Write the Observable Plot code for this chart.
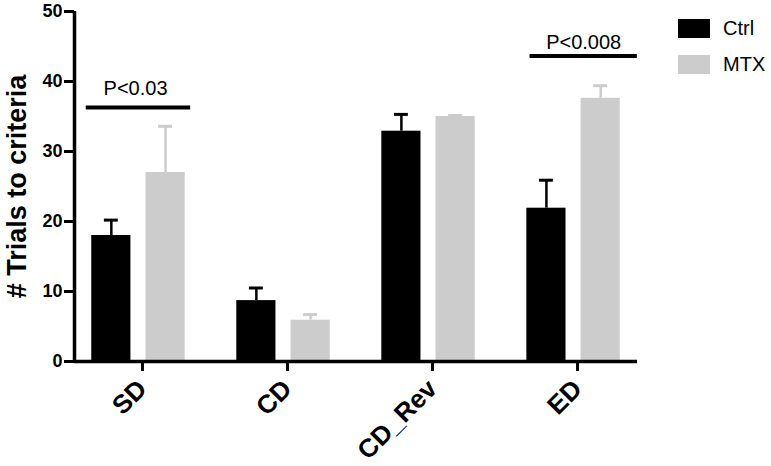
<!DOCTYPE html>
<html>
<head>
<meta charset="utf-8">
<script src="https://cdn.jsdelivr.net/npm/d3@7"></script>
<script src="https://cdn.jsdelivr.net/npm/@observablehq/plot@0.6"></script>
<style>
  body { margin: 0; background: #fff; font-family: "Liberation Sans", Arial, sans-serif; }
  #wrap { position: relative; width: 771px; height: 466px; }
  #legend { position: absolute; left: 678px; top: 19px; width: 93px; white-space: nowrap; }
  .lg-swatches { margin: 0 !important; font-size: 20px; line-height: 19px; font-family: "Liberation Sans", Arial, sans-serif; color: #000; }
  .lg-swatch { margin: 0 0 17px 0 !important; padding: 0 !important; display: flex; align-items: center; height: 19px; overflow: visible !important; }
  .lg-swatch svg { margin-right: 13px !important; flex-shrink: 0; }
  .lg-swatch * { overflow: visible !important; text-overflow: clip !important; }
</style>
</head>
<body>
<div id="wrap"><div id="chart"></div><div id="legend"></div></div>
<script>
// ---- data ----
const categories = ["SD", "CD", "CD_Rev", "ED"];
const series = ["Ctrl", "MTX"];
const seriesColors = ["#000000", "#cccccc"];
const ctrlMean = [18.0, 8.7, 32.9, 21.9];
const ctrlErr  = [2.2, 1.8, 2.4, 4.0];
const mtxMean  = [27.0, 5.9, 35.0, 37.6];
const mtxErr   = [6.6, 0.8, 0.15, 1.8];
const yTicks = [0, 10, 20, 30, 40, 50];
const yTitle = "# Trials to criteria";
const sigCategory = ["SD", "ED"];
const sigLabel = ["P<0.03", "P<0.008"];
const sigLineValue = [36.3, 43.65];
const sigTextValue = [38.1, 44.6];
const sigSpanFrom = [-0.36, -0.30];
const sigSpanTo = [0.36, 0.44];
const sigTextShift = [-0.02, 0.07];

// ---- layout (category units) ----
const xDomain = [-0.441, 3.441];
const groupOffset = { Ctrl: -0.187, MTX: 0.187 };
const barHalf = 0.135;
const capHalf = 0.048;

const means = { Ctrl: ctrlMean, MTX: mtxMean };
const errs = { Ctrl: ctrlErr, MTX: mtxErr };
const rows = [];
categories.forEach((cat, i) => {
  series.forEach(g => rows.push({ cat, i, group: g, mean: means[g][i], err: errs[g][i] }));
});
const sig = sigCategory.map((cat, k) => ({
  i: categories.indexOf(cat), label: sigLabel[k], lineY: sigLineValue[k], textY: sigTextValue[k],
  from: sigSpanFrom[k], to: sigSpanTo[k], shift: sigTextShift[k]
}));
const center = d => d.i + groupOffset[d.group];

const chart = Plot.plot({
  width: 771, height: 466,
  marginLeft: 74, marginRight: 134, marginTop: 11, marginBottom: 105,
  style: { fontFamily: "'Liberation Sans', Arial, sans-serif", color: "#000", background: "#fff" },
  x: { type: "linear", domain: xDomain, axis: null },
  y: { domain: [0, 50], axis: null },
  color: { domain: series, range: seriesColors },
  marks: [
    Plot.rectY(rows, { x1: d => center(d) - barHalf, x2: d => center(d) + barHalf, y1: 0, y2: "mean", fill: "group" }),
    Plot.ruleX(rows, { x: center, y1: "mean", y2: d => d.mean + d.err, stroke: "group", strokeWidth: 2.5 }),
    Plot.ruleY(rows, { y: d => d.mean + d.err, x1: d => center(d) - capHalf, x2: d => center(d) + capHalf, stroke: "group", strokeWidth: 3 }),
    Plot.ruleY([0], { strokeWidth: 3.5 }),
    Plot.ruleX([xDomain[0]], { y1: 0, y2: 50, strokeWidth: 3.5 }),
    Plot.axisY({ ticks: yTicks, tickSize: 10, tickPadding: 2, fontSize: 18, fontWeight: "bold", strokeWidth: 3, label: null }),
    Plot.axisX({ ticks: categories.map((_, i) => i), tickFormat: i => categories[i], tickSize: 10, tickPadding: 13,
                 tickRotate: -45, fontSize: 26, fontWeight: "bold", strokeWidth: 3, dx: 4, label: null }),
    Plot.text([yTitle], { text: d => d, frameAnchor: "left", textAnchor: "middle", rotate: -90, dx: -57, fontSize: 27, fontWeight: "bold" }),
    Plot.ruleY(sig, { y: "lineY", x1: d => d.i + d.from, x2: d => d.i + d.to, strokeWidth: 4 }),
    Plot.text(sig, { x: d => d.i + d.shift, y: "textY", text: "label", fontSize: 20, lineAnchor: "bottom" })
  ]
});
document.getElementById("chart").appendChild(chart);
const leg = chart.legend("color", { swatchWidth: 32, swatchHeight: 19, columns: 1, className: "lg" });
document.getElementById("legend").appendChild(leg);
</script>
</body>
</html>
